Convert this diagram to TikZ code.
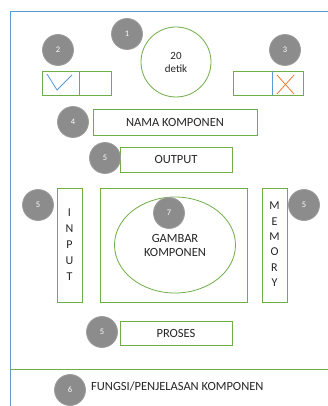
\documentclass[tikz,border=0pt]{standalone}
\usepackage{fontspec}
\setmainfont{Carlito}
\usetikzlibrary{shapes.geometric}
\definecolor{gr}{HTML}{70AD47}
\definecolor{bl}{HTML}{5B9BD5}
\definecolor{og}{HTML}{ED7D31}
\definecolor{gy}{HTML}{8C8C8C}
\definecolor{tx}{HTML}{262626}
\tikzset{
  badge/.style={circle, fill=gy, draw=gy!85!white, line width=0.8pt, minimum size=31pt, inner sep=0pt, text=white, font=\fontsize{8.5}{9}\selectfont},
  gbox/.style={draw=gr, line width=0.8pt, inner sep=0pt, text=tx, font=\fontsize{12.5}{13}\selectfont},
  lbl/.style={text=tx, font=\fontsize{12}{13}\selectfont, inner sep=0pt},
}
\begin{document}
\begin{tikzpicture}[x=1pt,y=-1pt]
\useasboundingbox (0,0) rectangle (328,406);
\fill[white] (0,0) rectangle (328,406);
% outer frame
\draw[bl, line width=0.8pt] (10,406) -- (10,11) -- (328,11);
\coordinate (sepL) at (10,369);
\coordinate (sepR) at (328,369);
\draw[gr, line width=0.8pt] (sepL) -- (sepR);
% timer
\node[circle, draw=gr, line width=0.8pt, minimum size=70pt, inner sep=0pt, text=tx, align=center, font=\fontsize{11}{13}\selectfont] (timer) at (176,62) {20\\detik};
\node[badge] (b1) at (127,34) {1};
% check boxes
\node[gbox, minimum width=69pt, minimum height=24pt] (okbox) at (76.5,83) {};
\draw[bl, line width=0.8pt] (79,71) -- (79,95);
\draw[bl, line width=0.8pt] (47,74) -- (57,90) -- (72,75);
\node[badge] (b2) at (58,50) {2};
\node[gbox, minimum width=70pt, minimum height=24pt] (nobox) at (268,83) {};
\draw[bl, line width=0.8pt] (272,71) -- (272,95);
\draw[og, line width=0.8pt] (277,75) -- (294,94) (294,75) -- (277,94);
\node[badge] (b3) at (285,50) {3};
% nama komponen
\node[gbox, minimum width=164pt, minimum height=26pt] (nama) at (175,122) {NAMA KOMPONEN};
\node[badge] (b4) at (73,122) {4};
% output
\node[gbox, minimum width=112pt, minimum height=25pt] (output) at (176,159.5) {OUTPUT};
\node[badge] (b5a) at (105,158) {5};
% input
\node[gbox, minimum width=25pt, minimum height=114pt] (input) at (69.5,245) {};
\foreach \c [count=\i] in {I,N,P,U,T} \node[lbl] at (69.5,197+16*\i) {\c};
\node[badge] (b5b) at (38,205) {5};
% picture area
\node[gbox, minimum width=147pt, minimum height=114pt] (pic) at (173.5,245) {};
\node[ellipse, draw=gr, line width=0.8pt, minimum width=121pt, minimum height=96pt, inner sep=0pt, text=tx, align=center, font=\fontsize{12.5}{14}\selectfont] (gambar) at (175,245) {GAMBAR\\KOMPONEN};
\node[badge] (b7) at (169,213) {7};
% memory
\node[gbox, minimum width=25pt, minimum height=114pt] (memory) at (274.5,245) {};
\foreach \c [count=\i] in {M,E,M,O,R,Y} \node[lbl] at (274.5,190.5+15.4*\i) {\c};
\node[badge] (b5c) at (304,205) {5};
% proses
\node[gbox, minimum width=112pt, minimum height=24pt] (proses) at (176,333) {PROSES};
\node[badge] (b5d) at (102,332) {5};
% fungsi
\node[badge] (b6) at (70,390) {6};
\node[lbl, anchor=west, font=\fontsize{12.5}{13}\selectfont] (fungsi) at (91,386) {FUNGSI/PENJELASAN KOMPONEN};
\end{tikzpicture}
\end{document}
